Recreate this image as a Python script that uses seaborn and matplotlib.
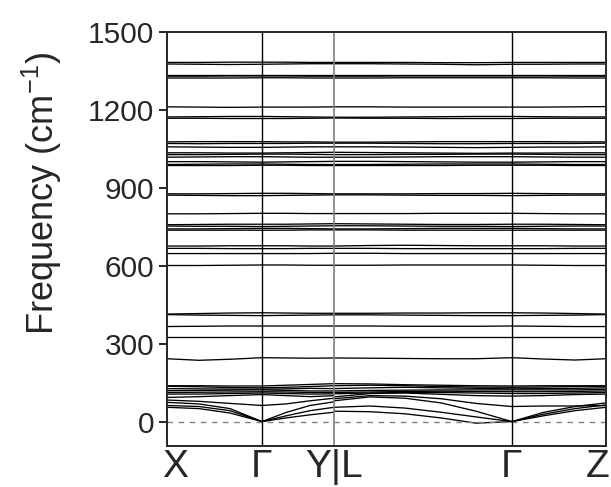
import numpy as np
import pandas as pd
import matplotlib
matplotlib.use("Agg")
import matplotlib.pyplot as plt
import seaborn as sns
from matplotlib.transforms import ScaledTranslation


# PATH (k positions of the sampled points)
k_xgy = [0, 32, 63, 95, 119, 143, 167]                 # X -> Gamma -> Y
k_lgz = [167, 203, 238, 274, 309, 345, 376, 408, 439]  # L -> Gamma -> Z
sym_k = [0, 95, 167, 345, 439]
sym_labels = ["X", "Γ", "Y|L", "Γ", "Z"]

# ACOUSTIC BRANCHES
acoustic_xgy = [
    [55, 50, 33, 0, 14, 26, 36],
    [62, 58, 42, 0, 22, 42, 55],
    [74, 68, 50, 0, 35, 62, 76],
]
acoustic_lgz = [
    [40, 38, 30, 14, -6, 0, 22, 42, 55],
    [55, 60, 52, 36, 18, 0, 28, 50, 64],
    [80, 95, 90, 72, 40, 0, 35, 58, 72],
]

# LOW OPTIC BRANCHES (< 150 cm-1)
low_xgy = [
    [83, 78, 70, 62, 68, 80, 90],
    [93, 96, 100, 104, 100, 96, 100],
    [106, 106, 108, 110, 108, 106, 107],
    [112, 113, 114, 115, 114, 112, 112],
    [119, 120, 121, 122, 120, 118, 118],
    [127, 126, 125, 125, 126, 128, 127],
    [136, 134, 131, 130, 132, 135, 138],
    [138, 138, 137, 137, 140, 143, 146],
]
low_lgz = [
    [88, 100, 98, 88, 70, 58, 60, 60, 62],
    [95, 108, 110, 105, 100, 98, 100, 104, 106],
    [107, 110, 112, 112, 110, 108, 108, 110, 112],
    [112, 114, 116, 117, 116, 115, 115, 116, 118],
    [118, 120, 121, 122, 122, 122, 122, 122, 124],
    [127, 130, 132, 130, 128, 126, 127, 128, 130],
    [138, 140, 138, 135, 133, 132, 133, 135, 136],
    [146, 145, 142, 140, 138, 137, 138, 138, 138],
]

# MID OPTIC BRANCHES (200 - 700 cm-1)
mid_xgy = [
    [242, 236, 240, 246, 245, 244, 245],
    [326, 326, 326, 326, 326, 326, 326],
    [366, 367, 368, 368, 368, 368, 368],
    [412, 410, 409, 408, 409, 410, 411],
    [414, 416, 418, 419, 418, 417, 417],
    [601, 601, 602, 603, 603, 602, 602],
    [647, 647, 647, 647, 647, 647, 648],
    [667, 667, 666, 666, 666, 667, 667],
    [676, 676, 677, 677, 677, 676, 676],
]
mid_lgz = [
    [245, 244, 243, 242, 242, 246, 241, 237, 242],
    [326, 326, 326, 326, 326, 326, 326, 326, 326],
    [368, 368, 367, 367, 367, 368, 367, 366, 366],
    [411, 411, 410, 409, 408, 408, 409, 410, 412],
    [417, 417, 418, 418, 419, 419, 418, 416, 414],
    [602, 602, 603, 603, 603, 603, 602, 601, 601],
    [648, 648, 647, 647, 647, 647, 647, 647, 647],
    [667, 667, 666, 666, 666, 666, 666, 667, 667],
    [676, 678, 679, 678, 677, 677, 677, 676, 676],
]

# HIGH OPTIC BRANCHES (> 700 cm-1)
high_xgy = [
    [737, 737, 737, 737, 737, 738, 738],
    [742, 742, 743, 744, 744, 743, 742],
    [753, 752, 752, 751, 752, 753, 754],
    [758, 759, 760, 760, 760, 761, 762],
    [800, 800, 801, 802, 802, 801, 801],
    [872, 871, 870, 870, 871, 872, 873],
    [877, 877, 878, 879, 879, 878, 877],
    [986, 986, 986, 987, 987, 986, 986],
    [990, 991, 992, 992, 991, 990, 990],
    [1001, 1001, 1000, 999, 1000, 1001, 1002],
    [1018, 1019, 1020, 1020, 1019, 1018, 1018],
    [1028, 1028, 1029, 1030, 1030, 1029, 1028],
    [1035, 1035, 1034, 1034, 1035, 1036, 1037],
    [1058, 1057, 1056, 1056, 1057, 1058, 1058],
    [1071, 1070, 1071, 1071, 1071, 1072, 1072],
    [1077, 1078, 1078, 1078, 1077, 1077, 1076],
    [1168, 1168, 1167, 1167, 1167, 1168, 1169],
    [1173, 1174, 1175, 1175, 1174, 1173, 1172],
    [1212, 1211, 1210, 1211, 1211, 1211, 1212],
    [1323, 1323, 1323, 1324, 1324, 1323, 1323],
    [1330, 1330, 1331, 1331, 1331, 1330, 1330],
    [1336, 1336, 1336, 1336, 1336, 1336, 1336],
    [1377, 1376, 1375, 1376, 1377, 1378, 1378],
    [1383, 1383, 1384, 1384, 1384, 1383, 1383],
]
high_lgz = [
    [738, 738, 737, 737, 737, 737, 737, 737, 737],
    [742, 742, 743, 744, 744, 744, 743, 742, 742],
    [754, 754, 753, 752, 752, 751, 752, 753, 753],
    [762, 761, 760, 759, 759, 760, 760, 759, 758],
    [801, 801, 801, 802, 802, 802, 801, 800, 800],
    [873, 873, 872, 871, 871, 870, 871, 872, 872],
    [877, 877, 877, 878, 878, 879, 878, 877, 877],
    [986, 986, 986, 986, 987, 987, 987, 986, 986],
    [990, 990, 991, 992, 992, 992, 991, 990, 990],
    [1002, 1002, 1001, 1000, 999, 999, 1000, 1001, 1001],
    [1018, 1018, 1019, 1020, 1020, 1020, 1019, 1018, 1018],
    [1028, 1028, 1029, 1029, 1030, 1030, 1029, 1028, 1028],
    [1037, 1036, 1035, 1034, 1033, 1034, 1034, 1035, 1035],
    [1058, 1058, 1057, 1056, 1055, 1056, 1057, 1057, 1058],
    [1072, 1072, 1071, 1070, 1070, 1071, 1071, 1071, 1072],
    [1076, 1076, 1077, 1078, 1078, 1078, 1078, 1077, 1077],
    [1169, 1168, 1168, 1167, 1167, 1167, 1168, 1168, 1168],
    [1172, 1172, 1173, 1174, 1175, 1175, 1174, 1173, 1173],
    [1212, 1212, 1211, 1211, 1211, 1211, 1211, 1212, 1213],
    [1323, 1323, 1324, 1324, 1324, 1324, 1324, 1323, 1323],
    [1330, 1330, 1331, 1331, 1331, 1331, 1331, 1330, 1330],
    [1336, 1336, 1336, 1336, 1336, 1336, 1336, 1336, 1336],
    [1378, 1378, 1377, 1376, 1374, 1376, 1376, 1377, 1377],
    [1383, 1383, 1383, 1382, 1382, 1383, 1383, 1383, 1383],
]


# BUILD LONG TABLE
rows = []
groups = [
    ("ac_a", k_xgy, acoustic_xgy), ("ac_b", k_lgz, acoustic_lgz),
    ("lo_a", k_xgy, low_xgy), ("lo_b", k_lgz, low_lgz),
    ("mi_a", k_xgy, mid_xgy), ("mi_b", k_lgz, mid_lgz),
    ("hi_a", k_xgy, high_xgy), ("hi_b", k_lgz, high_lgz),
]
for name, k, bands in groups:
    for i, band in enumerate(bands):
        for kk, f in zip(k, band):
            rows.append((f"{name}{i}", kk, f))
df = pd.DataFrame(rows, columns=["band", "k", "freq"])


# PLOT
sns.set_style("ticks")
plt.rcParams["font.family"] = ["Liberation Sans", "DejaVu Sans"]
plt.rcParams["mathtext.fontset"] = "custom"
plt.rcParams["mathtext.rm"] = "Liberation Sans"
plt.rcParams["mathtext.it"] = "Liberation Sans:italic"

fig = plt.figure(figsize=(6.11, 4.87), dpi=100)
ax = fig.add_axes([0.2733, 0.0842, 0.7185, 0.850])

sns.lineplot(data=df, x="k", y="freq", units="band", estimator=None,
             color="black", lw=0.95, sort=False, ax=ax, legend=False)

ax.axhline(0, color="grey", lw=1, ls=(0, (4, 4)))
ax.axvline(sym_k[1], color="black", lw=1)
ax.axvline(sym_k[2], color="grey", lw=1.2)
ax.axvline(sym_k[3], color="black", lw=1)

ax.set_xlim(sym_k[0], sym_k[-1])
ax.set_ylim(-94, 1500)
ax.set_yticks([0, 300, 600, 900, 1200, 1500])
ax.set_xticks(sym_k)
ax.set_xticklabels(sym_labels, fontsize=28)
ax.tick_params(axis="x", length=0, pad=2)
ax.tick_params(axis="y", labelsize=21.5, length=6, width=1.4, direction="out", pad=3)
for s in ax.spines.values():
    s.set_linewidth(1.4)
    s.set_visible(True)

xl = ax.get_xticklabels()
xl[0].set_transform(xl[0].get_transform() + ScaledTranslation(8/100, 0, fig.dpi_scale_trans))
xl[-1].set_transform(xl[-1].get_transform() + ScaledTranslation(-8/100, 0, fig.dpi_scale_trans))

ax.set_xlabel("")
ax.set_ylabel("Frequency (cm$^{-1}$)", fontsize=26)
ax.yaxis.set_label_coords(-0.235, 0.61)

fig.savefig("out.png", dpi=100)
